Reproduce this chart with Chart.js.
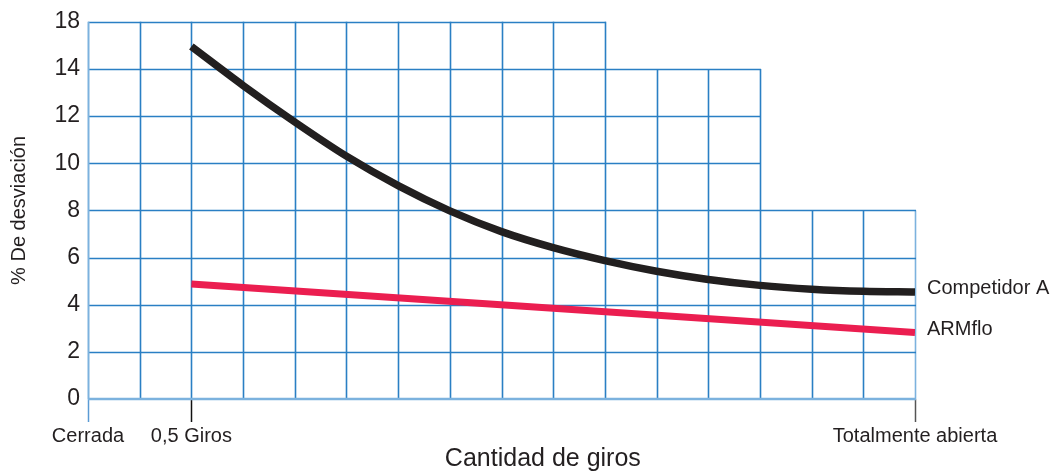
<!DOCTYPE html>
<html>
<head>
<meta charset="utf-8">
<script src="https://cdn.jsdelivr.net/npm/chart.js@4/dist/chart.umd.min.js"></script>
<style>
  html, body { margin: 0; padding: 0; background: #fff; }
  #wrap { width: 1052px; height: 473px; }
</style>
</head>
<body>
<div id="wrap"><canvas id="chart" width="1052" height="473"></canvas></div>
<script>
'use strict';

// grid columns (x units), 0 = Cerrada, 2 = 0,5 Giros, 16 = Totalmente abierta
var xTickValues = [0, 2, 16];
var xTickLabels = ['Cerrada', '0,5 Giros', 'Totalmente abierta'];
var yTickValues = [0, 2, 4, 6, 8, 10, 12, 14, 16];
var yTickLabels = ['0', '2', '4', '6', '8', '10', '12', '14', '18'];

var seriesNames = ['Competidor A', 'ARMflo'];
var competidorX = [2, 3, 4, 5, 6, 7, 8, 9, 10, 11, 12, 13, 14, 15, 16];
var competidorValues = [14.95, 13.3, 11.75, 10.3, 9.05, 7.98, 7.1, 6.42, 5.87, 5.42, 5.07, 4.82, 4.66, 4.57, 4.54];
var armfloX = [2, 16];
var armfloValues = [4.88, 2.82];

// stepped outline of the grid: columns up to toCol reach the value top
var gridSteps = [
  { toCol: 10, top: 16 },
  { toCol: 13, top: 14 },
  { toCol: 16, top: 8 }
];

var textColor = '#231f20';
var gridBlue = '#2a7fc4';
var lightBlue = '#7cb2de';

function toPoints(xs, ys) {
  var pts = [];
  for (var i = 0; i < xs.length; i++) {
    pts.push({ x: xs[i], y: ys[i] });
  }
  return pts;
}

function colTop(c) {
  for (var i = 0; i < gridSteps.length; i++) {
    if (c <= gridSteps[i].toCol) return gridSteps[i].top;
  }
  return 0;
}

function rowEnd(v) {
  var end = 0;
  for (var i = 0; i < gridSteps.length; i++) {
    if (gridSteps[i].top >= v && gridSteps[i].toCol > end) end = gridSteps[i].toCol;
  }
  return end;
}

var steppedGrid = {
  id: 'steppedGrid',
  beforeDatasetsDraw: function(chart) {
    var ctx = chart.ctx;
    var xs = chart.scales.x;
    var ys = chart.scales.y;
    ctx.save();
    ctx.lineWidth = 1.6;
    for (var c = 1; c <= 16; c++) {
      ctx.strokeStyle = c === 16 ? lightBlue : gridBlue;
      var px = Math.round(xs.getPixelForValue(c)) + 0.5;
      ctx.beginPath();
      ctx.moveTo(px, ys.getPixelForValue(0));
      ctx.lineTo(px, ys.getPixelForValue(colTop(c)));
      ctx.stroke();
    }
    for (var v = 2; v <= 16; v += 2) {
      ctx.strokeStyle = gridBlue;
      var py = Math.round(ys.getPixelForValue(v)) + 0.5;
      ctx.beginPath();
      ctx.moveTo(xs.getPixelForValue(0), py);
      ctx.lineTo(xs.getPixelForValue(rowEnd(v)) + 1, py);
      ctx.stroke();
    }
    // left edge and base line in the lighter blue
    ctx.strokeStyle = lightBlue;
    ctx.lineWidth = 2;
    var lx = Math.round(xs.getPixelForValue(0)) + 0.5;
    ctx.beginPath();
    ctx.moveTo(lx, ys.getPixelForValue(16));
    ctx.lineTo(lx, ys.getPixelForValue(0));
    ctx.stroke();
    ctx.lineWidth = 2.5;
    var by = Math.round(ys.getPixelForValue(0));
    ctx.beginPath();
    ctx.moveTo(xs.getPixelForValue(0), by);
    ctx.lineTo(xs.getPixelForValue(16) + 1, by);
    ctx.stroke();
    ctx.restore();
  },
  afterDatasetsDraw: function(chart) {
    var ctx = chart.ctx;
    var area = chart.chartArea;
    ctx.save();
    ctx.fillStyle = textColor;
    ctx.font = '20px "Liberation Sans", Arial, sans-serif';
    ctx.textAlign = 'left';
    ctx.textBaseline = 'middle';
    chart.data.datasets.forEach(function(ds, i) {
      var meta = chart.getDatasetMeta(i);
      var last = meta.data[meta.data.length - 1];
      ctx.fillText(ds.label, area.right + 12, last.y - 3);
    });
    // x axis title sits a bit right of the plot centre
    ctx.font = '25px "Liberation Sans", Arial, sans-serif';
    ctx.textAlign = 'center';
    ctx.fillText('Cantidad de giros', chart.scales.x.getPixelForValue(8.8), 459);
    ctx.restore();
  }
};

Chart.defaults.font.family = '"Liberation Sans", Arial, sans-serif';
Chart.defaults.color = textColor;

var ctx = document.getElementById('chart').getContext('2d');
var chart = new Chart(ctx, {
  type: 'line',
  data: {
    datasets: [{
      label: seriesNames[0],
      data: toPoints(competidorX, competidorValues),
      borderColor: '#221f1f',
      borderWidth: 7.5,
      borderCapStyle: 'butt',
      cubicInterpolationMode: 'monotone',
      pointRadius: 0,
      fill: false
    }, {
      label: seriesNames[1],
      data: toPoints(armfloX, armfloValues),
      borderColor: '#eb1e50',
      borderWidth: 7,
      borderCapStyle: 'butt',
      pointRadius: 0,
      fill: false
    }]
  },
  options: {
    responsive: false,
    animation: false,
    devicePixelRatio: 1,
    layout: { padding: { top: 21, right: 137, left: 0, bottom: 0 } },
    plugins: {
      legend: { display: false },
      tooltip: { enabled: false }
    },
    scales: {
      x: {
        type: 'linear',
        min: 0,
        max: 16,
        afterBuildTicks: function(scale) {
          scale.ticks = xTickValues.map(function(v) { return { value: v }; });
        },
        afterFit: function(scale) { scale.height = 74; },
        border: { display: false },
        grid: {
          drawOnChartArea: false,
          drawTicks: true,
          tickLength: 23,
          tickWidth: 1.5,
          tickColor: function(c) { return ['#5a9bd4', '#111', '#555'][c.index]; }
        },
        ticks: {
          autoSkip: false,
          maxRotation: 0,
          padding: 2,
          font: { size: 20 },
          callback: function(value, index) { return xTickLabels[index]; }
        }
      },
      y: {
        min: 0,
        max: 16,
        afterBuildTicks: function(scale) {
          scale.ticks = yTickValues.map(function(v) { return { value: v }; });
        },
        afterFit: function(scale) { scale.width = 88; },
        border: { display: false },
        grid: { display: false, drawTicks: false },
        ticks: {
          padding: 8,
          font: { family: '"Liberation Sans Narrow", "Liberation Sans", Arial, sans-serif', size: 23 },
          callback: function(value, index) { return yTickLabels[index]; }
        },
        title: {
          display: true,
          text: '% De desviación',
          font: { size: 20 },
          padding: { top: 7, bottom: 0 }
        }
      }
    }
  },
  plugins: [steppedGrid]
});
</script>
</body>
</html>
